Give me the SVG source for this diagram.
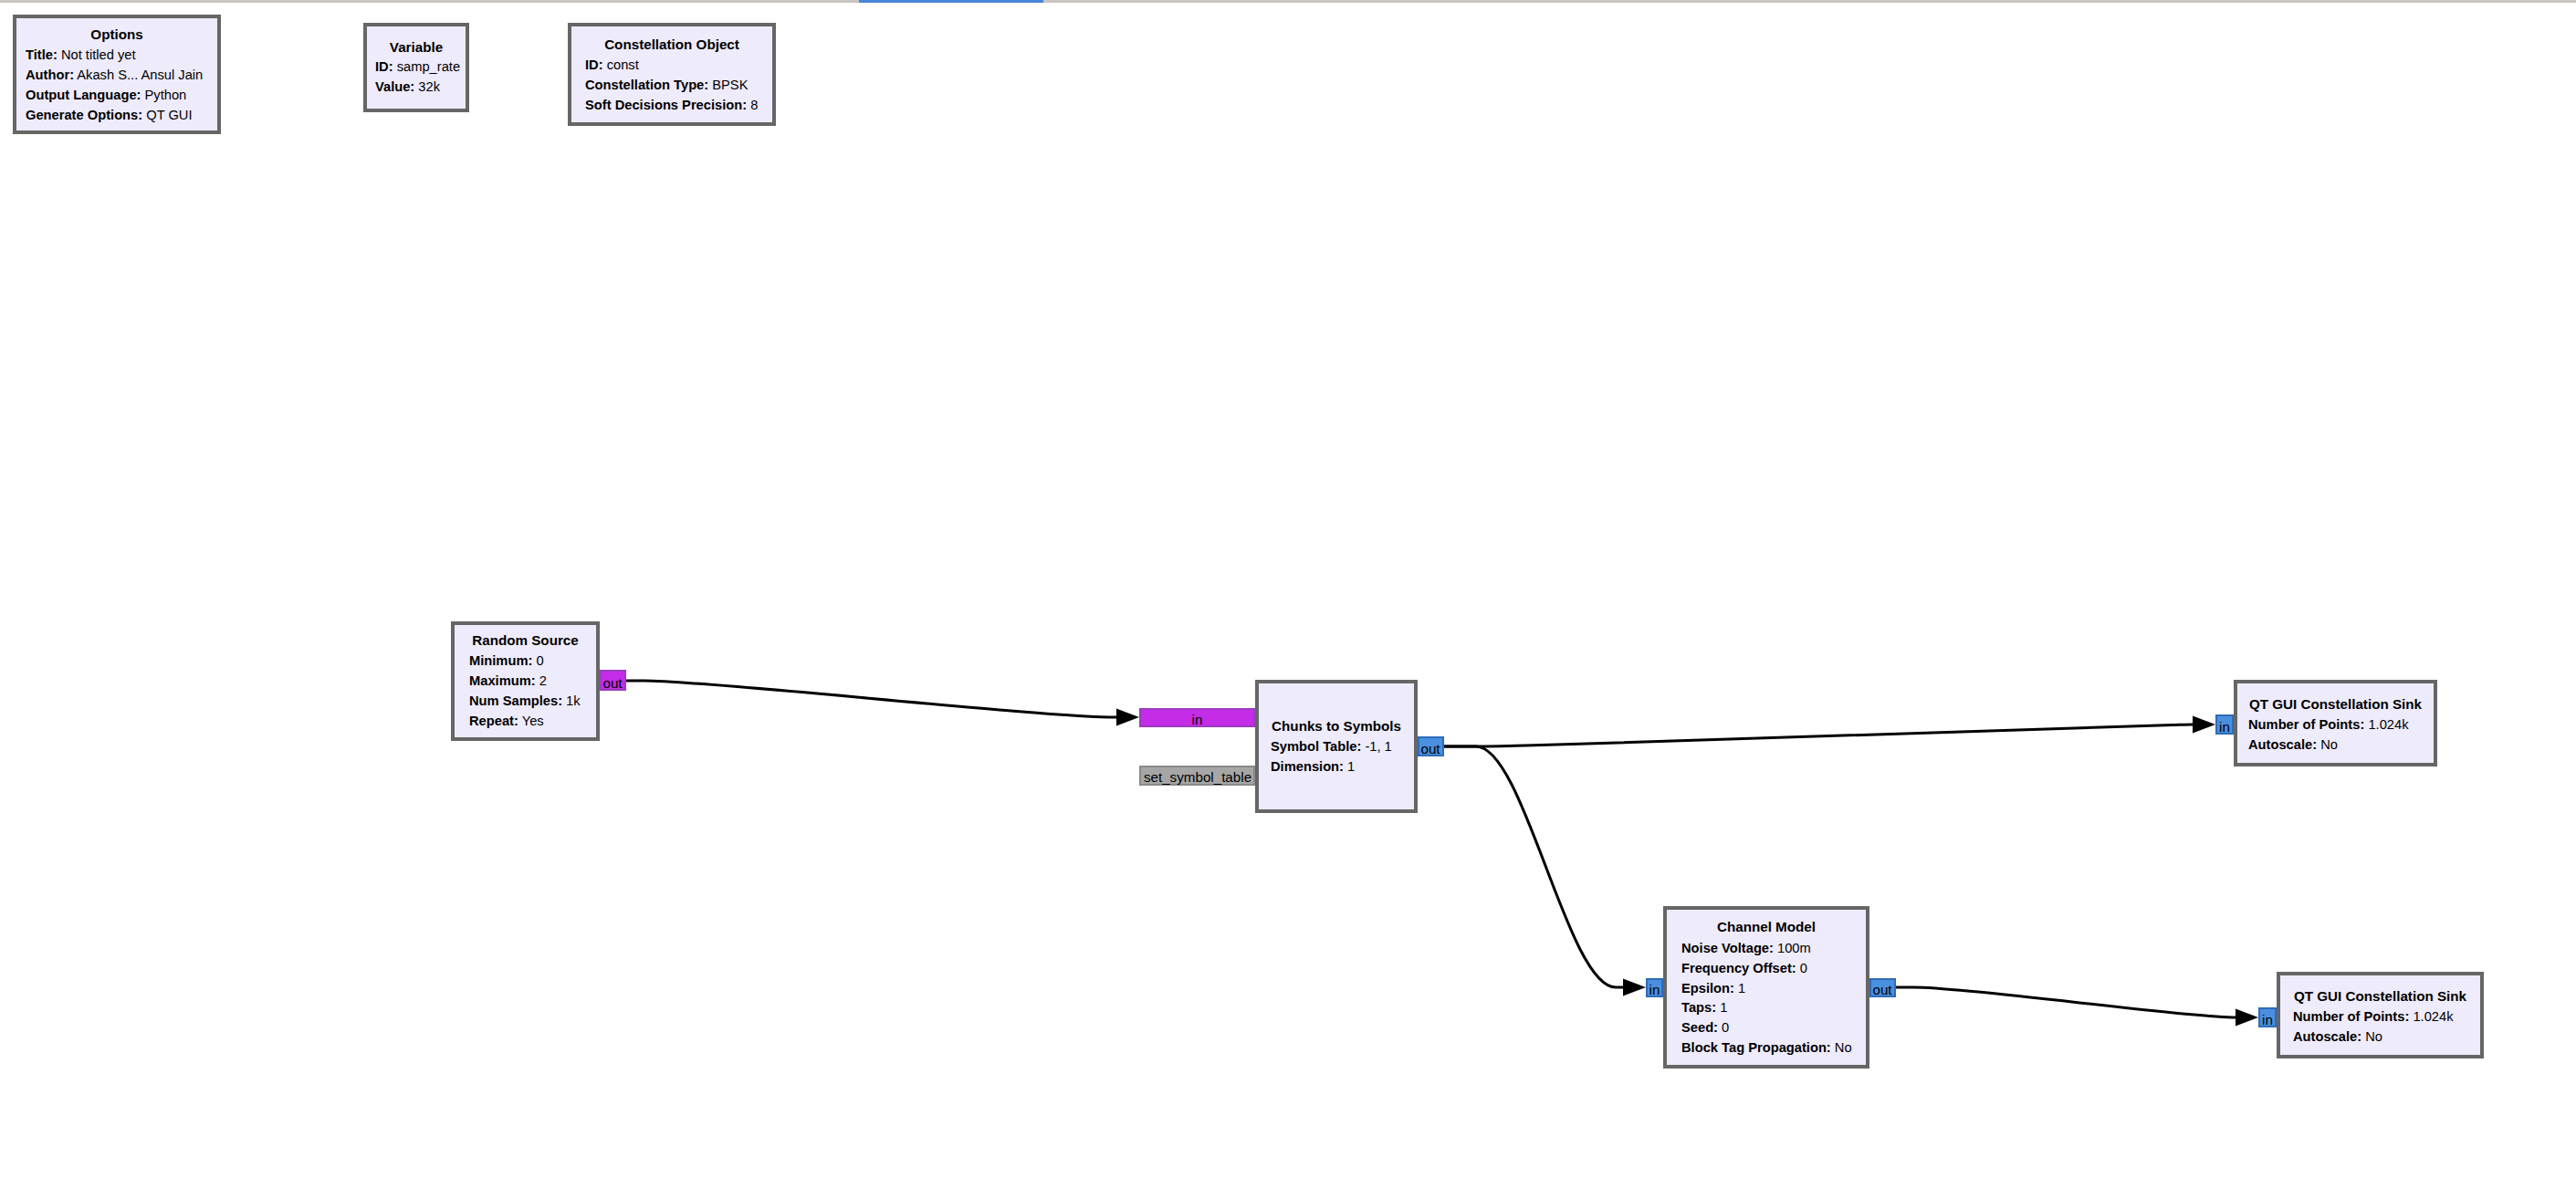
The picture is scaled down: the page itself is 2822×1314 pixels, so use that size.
<svg xmlns="http://www.w3.org/2000/svg" width="2822" height="1314" viewBox="0 0 2822 1314">
<style>
text{font-family:"Liberation Sans",Arial,sans-serif;fill:#000}
.blk{fill:#eeebfc;stroke:#666;stroke-width:4}
.t{font-size:15.2px;font-weight:bold;text-anchor:middle}
.l{font-size:14.7px}
.l tspan.k{font-weight:bold}
.pp{fill:#c42ce8;stroke:#9b3cbf;stroke-width:2}
.pb{fill:#4a8fe0;stroke:#2f6bb8;stroke-width:2}
.pg{fill:#a6a6a6;stroke:#8a8a8a;stroke-width:2}
.pt{font-size:15.2px;text-anchor:middle}
.c{fill:none;stroke:#000;stroke-width:3;marker-end:url(#arr)}
</style>
<defs>
<marker id="arr" markerUnits="userSpaceOnUse" markerWidth="26" markerHeight="20" refX="0" refY="10" orient="auto" viewBox="0 0 26 20">
<path d="M0,0.5 L25,10 L0,19.5 Z" fill="#000"/>
</marker>
</defs>
<rect x="0" y="0" width="2822" height="1314" fill="#fff"/>
<rect x="0" y="0" width="2822" height="3" fill="#c9c5c1"/>
<rect x="941" y="0" width="202" height="3" fill="#4a86d8"/>

<g id="connectors">
<path class="c" d="M686,746 L706,746 C780,746 1140,786 1223,786"/>
<path class="c" d="M1582,818 L1615,818 C1640,818 1660,817.4 1680,816.8 L2380,794.6 C2392,794.2 2396,794 2402,794"/>
<path class="c" d="M1582,818 L1617,818 C1670,818 1717,1082 1770,1082 L1778,1082"/>
<path class="c" d="M2077,1082 L2097,1082 C2160,1082 2390,1115 2449,1115"/>
</g>

<g id="options">
<rect class="blk" x="16" y="18" width="224" height="127"/>
<text class="t" x="128" y="43">Options</text>
<text class="l" x="28" y="65"><tspan class="k">Title:</tspan> Not titled yet</text>
<text class="l" x="28" y="87"><tspan class="k">Author:</tspan> Akash S... Ansul Jain</text>
<text class="l" x="28" y="109"><tspan class="k">Output Language:</tspan> Python</text>
<text class="l" x="28" y="131"><tspan class="k">Generate Options:</tspan> QT GUI</text>
</g>

<g id="variable">
<rect class="blk" x="400" y="27" width="112" height="94"/>
<text class="t" x="456" y="57">Variable</text>
<text class="l" x="411" y="78"><tspan class="k">ID:</tspan> samp_rate</text>
<text class="l" x="411" y="100"><tspan class="k">Value:</tspan> 32k</text>
</g>

<g id="constellation_object">
<rect class="blk" x="624" y="27" width="224" height="109"/>
<text class="t" x="736" y="54">Constellation Object</text>
<text class="l" x="641" y="76"><tspan class="k">ID:</tspan> const</text>
<text class="l" x="641" y="98"><tspan class="k">Constellation Type:</tspan> BPSK</text>
<text class="l" x="641" y="120"><tspan class="k">Soft Decisions Precision:</tspan> 8</text>
</g>

<g id="random_source">
<rect class="blk" x="496" y="683" width="159" height="127"/>
<text class="t" x="575.5" y="707">Random Source</text>
<text class="l" x="514" y="729"><tspan class="k">Minimum:</tspan> 0</text>
<text class="l" x="514" y="751"><tspan class="k">Maximum:</tspan> 2</text>
<text class="l" x="514" y="773"><tspan class="k">Num Samples:</tspan> 1k</text>
<text class="l" x="514" y="795"><tspan class="k">Repeat:</tspan> Yes</text>
<rect class="pp" x="658" y="735" width="27" height="21"/>
<text class="pt" x="671" y="754">out</text>
</g>

<g id="chunks_to_symbols">
<rect class="pp" x="1249" y="777" width="125" height="19"/>
<text class="pt" x="1311.5" y="794">in</text>
<rect class="pg" x="1249" y="840" width="125" height="20"/>
<text class="pt" x="1312" y="857">set_symbol_table</text>
<rect class="blk" x="1377" y="747" width="174" height="142"/>
<text class="t" x="1464" y="801">Chunks to Symbols</text>
<text class="l" x="1392" y="823"><tspan class="k">Symbol Table:</tspan> -1, 1</text>
<text class="l" x="1392" y="845"><tspan class="k">Dimension:</tspan> 1</text>
<rect class="pb" x="1554" y="808" width="27" height="20"/>
<text class="pt" x="1567" y="826">out</text>
</g>

<g id="qt_gui_constellation_sink_0">
<rect class="pb" x="2428" y="784" width="18" height="20"/>
<text class="pt" x="2437" y="802">in</text>
<rect class="blk" x="2449" y="747" width="219" height="91"/>
<text class="t" x="2558.5" y="777">QT GUI Constellation Sink</text>
<text class="l" x="2463" y="799"><tspan class="k">Number of Points:</tspan> 1.024k</text>
<text class="l" x="2463" y="821"><tspan class="k">Autoscale:</tspan> No</text>
</g>

<g id="channel_model">
<rect class="pb" x="1804" y="1073" width="17" height="19"/>
<text class="pt" x="1812.5" y="1090">in</text>
<rect class="blk" x="1824" y="995" width="222" height="174"/>
<text class="t" x="1935" y="1021">Channel Model</text>
<text class="l" x="1842" y="1044"><tspan class="k">Noise Voltage:</tspan> 100m</text>
<text class="l" x="1842" y="1066"><tspan class="k">Frequency Offset:</tspan> 0</text>
<text class="l" x="1842" y="1088"><tspan class="k">Epsilon:</tspan> 1</text>
<text class="l" x="1842" y="1109"><tspan class="k">Taps:</tspan> 1</text>
<text class="l" x="1842" y="1131"><tspan class="k">Seed:</tspan> 0</text>
<text class="l" x="1842" y="1153"><tspan class="k">Block Tag Propagation:</tspan> No</text>
<rect class="pb" x="2049" y="1073" width="27" height="19"/>
<text class="pt" x="2062" y="1090">out</text>
</g>

<g id="qt_gui_constellation_sink_1">
<rect class="pb" x="2475" y="1105" width="18" height="20"/>
<text class="pt" x="2484" y="1123">in</text>
<rect class="blk" x="2496" y="1067" width="223" height="91"/>
<text class="t" x="2607.5" y="1097">QT GUI Constellation Sink</text>
<text class="l" x="2512" y="1119"><tspan class="k">Number of Points:</tspan> 1.024k</text>
<text class="l" x="2512" y="1141"><tspan class="k">Autoscale:</tspan> No</text>
</g>
</svg>
